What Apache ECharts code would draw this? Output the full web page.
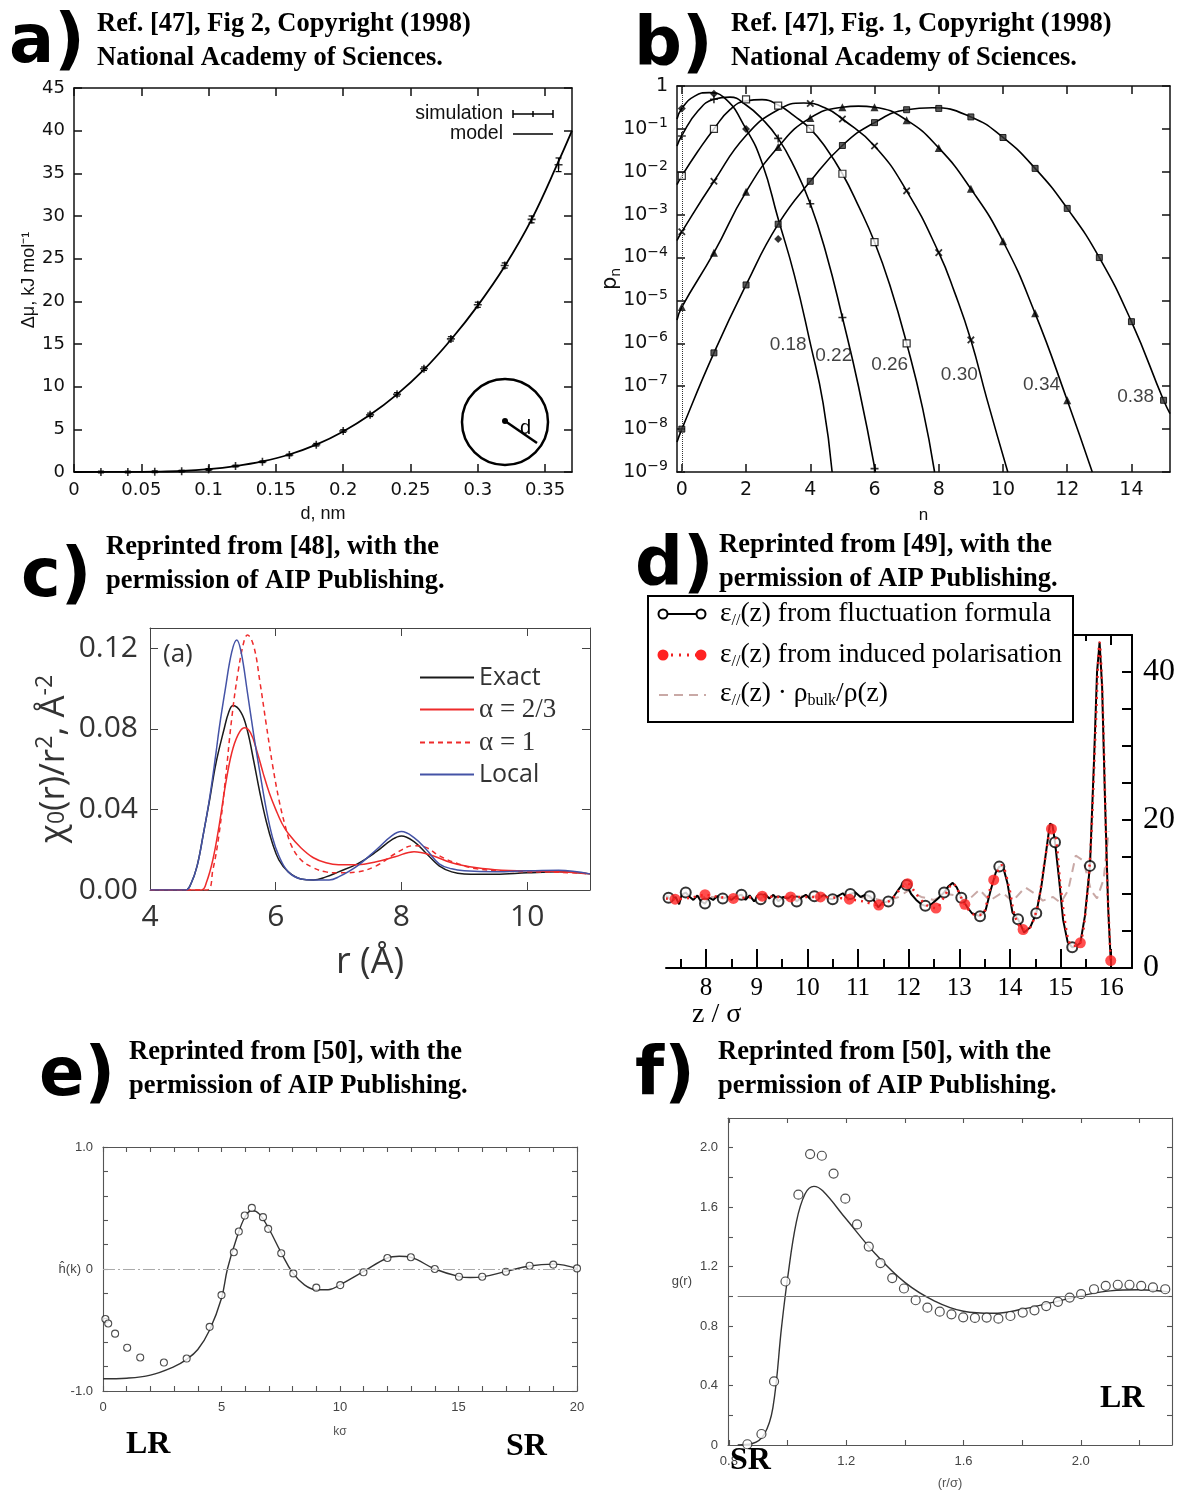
<!DOCTYPE html>
<html>
<head>
<meta charset="utf-8">
<script src="https://cdn.jsdelivr.net/npm/echarts@6/dist/echarts.min.js"></script>
<style>
  html, body { margin: 0; background: #fff; }
  #main { width: 1185px; height: 1496px; }
</style>
</head>
<body>
<div id="main"></div>
<script>
// ---------- panel a : insertion free energy ----------
const aSimD = [0.02, 0.04, 0.06, 0.08, 0.10, 0.12, 0.14, 0.16, 0.18, 0.20, 0.22, 0.24, 0.26, 0.28, 0.30, 0.32, 0.34, 0.36]
const aSimMu = [0, 0, 0.03, 0.1, 0.3, 0.7, 1.2, 2.0, 3.2, 4.8, 6.7, 9.1, 12.1, 15.6, 19.6, 24.2, 29.6, 36.0]
const aSimErr = [0.1, 0.1, 0.1, 0.1, 0.1, 0.1, 0.1, 0.1, 0.15, 0.15, 0.2, 0.2, 0.2, 0.25, 0.3, 0.3, 0.4, 0.8]
const aModelD = [0, 0.04, 0.06, 0.08, 0.10, 0.12, 0.14, 0.16, 0.18, 0.20, 0.22, 0.24, 0.26, 0.28, 0.30, 0.32, 0.34, 0.36, 0.37]
const aModelMu = [0, 0.01, 0.04, 0.12, 0.33, 0.7, 1.25, 2.05, 3.2, 4.75, 6.7, 9.1, 12.0, 15.5, 19.5, 24.1, 29.6, 36.4, 40.0]
const aTicksX = [0, 0.05, 0.1, 0.15, 0.2, 0.25, 0.3, 0.35]
const aTicksY = [0, 5, 10, 15, 20, 25, 30, 35, 40, 45]

// ---------- panel b : occupancy probabilities p_n ----------
const bPts18 = [[0, 0.3], [1, 0.66], [2, 0.1], [3, 2.7e-4]]
const bPts22 = [[0, 0.068], [1, 0.49], [3, 0.06], [4, 1.8e-3], [5, 4e-6], [6, 1.2e-9]]
const bPts26 = [[0, 8e-3], [1, 0.1], [2, 0.49], [3, 0.35], [4, 0.1], [5, 9e-3], [6, 2.3e-4], [7, 1e-6]]
const bPts30 = [[0, 4e-4], [1, 6e-3], [4, 0.39], [5, 0.17], [6, 0.04], [7, 3.6e-3], [8, 1.3e-4], [9, 1.2e-6]]
const bPts34 = [[0, 7e-6], [1, 1.3e-4], [2, 3.4e-3], [3, 0.038], [4, 0.18], [5, 0.32], [6, 0.32], [7, 0.16], [8, 0.036], [9, 4e-3], [10, 2.4e-4], [11, 5e-6], [12, 4.7e-8]]
const bPts38 = [[0, 1e-8], [1, 6e-7], [2, 2.3e-5], [3, 6e-4], [4, 6e-3], [5, 0.041], [6, 0.14], [7, 0.28], [8, 0.3], [9, 0.19], [10, 0.063], [11, 0.012], [12, 1.4e-3], [13, 1e-4], [14, 3.2e-6], [15, 4.7e-8]]
const bFit18 = [[-0.15, 0.17], [0, 0.3], [0.4, 0.58], [0.85, 0.7], [1.3, 0.55], [2, 0.1], [2.5, 0.016], [3, 8e-4], [3.5, 4e-5], [4, 1e-6], [4.4, 4e-8], [4.68, 1e-9]]
const bFit22 = [[-0.15, 0.04], [0, 0.07], [0.5, 0.26], [1, 0.49], [1.5, 0.55], [2, 0.36], [2.5, 0.17], [3, 0.06], [3.5, 0.013], [4, 1.8e-3], [4.5, 1.2e-4], [5, 4e-6], [5.5, 1e-7], [6.03, 1e-9]]
const bFit26 = [[-0.15, 5e-3], [0, 8e-3], [0.5, 0.03], [1, 0.1], [1.5, 0.28], [2, 0.45], [2.5, 0.48], [3, 0.36], [3.5, 0.2], [4, 0.1], [4.5, 0.035], [5, 9e-3], [5.5, 1.6e-3], [6, 2.3e-4], [6.5, 2e-5], [7, 1e-6], [7.5, 3e-8], [7.87, 1e-9]]
const bFit30 = [[-0.15, 2.5e-4], [0, 4e-4], [1, 6e-3], [2, 0.07], [3, 0.28], [3.8, 0.4], [4.5, 0.3], [5, 0.17], [6, 0.04], [7, 3.6e-3], [8, 1.3e-4], [8.5, 1.5e-5], [9, 1.2e-6], [9.5, 5e-8], [10.15, 1e-9]]
const bFit34 = [[-0.15, 3.5e-6], [0, 7e-6], [1, 1.3e-4], [2, 3.4e-3], [3, 0.038], [4, 0.18], [5, 0.32], [5.5, 0.34], [6, 0.32], [7, 0.16], [8, 0.036], [9, 4e-3], [10, 2.4e-4], [11, 5e-6], [12, 4.7e-8], [12.78, 1e-9]]
const bFit38 = [[-0.15, 5e-9], [0, 1e-8], [1, 6e-7], [2, 2.3e-5], [3, 6e-4], [4, 6e-3], [5, 0.041], [6, 0.14], [7, 0.28], [7.8, 0.31], [9, 0.19], [10, 0.063], [11, 0.012], [12, 1.4e-3], [13, 1e-4], [14, 3.2e-6], [15, 4.7e-8], [15.2, 2.3e-8]]
const bTagText = ['0.18', '0.22', '0.26', '0.30', '0.34', '0.38']
const bTagN = [3.31, 4.73, 6.47, 8.64, 11.2, 14.13]
const bTagP = [9.3e-7, 5.2e-7, 3.2e-7, 1.9e-7, 1.1e-7, 5.8e-8]
const bTicksX = [0, 2, 4, 6, 8, 10, 12, 14]

// ---------- panel c : chi0(r)/r^2 ----------
const cExact = [[4, 0], [4.57, 0], [4.65, 0.003], [4.75, 0.012], [4.85, 0.028], [4.95, 0.045], [5.05, 0.063], [5.18, 0.08], [5.25, 0.088], [5.32, 0.0915], [5.45, 0.088], [5.55, 0.079], [5.65, 0.064], [5.75, 0.048], [5.85, 0.034], [5.95, 0.023], [6.05, 0.015], [6.2, 0.009], [6.4, 0.0055], [6.6, 0.005], [6.8, 0.0065], [7.0, 0.009], [7.3, 0.013], [7.6, 0.019], [7.85, 0.025], [8.0, 0.0268], [8.2, 0.024], [8.4, 0.018], [8.6, 0.012], [8.8, 0.009], [9.0, 0.008], [9.5, 0.0078], [10.0, 0.0085], [10.5, 0.009], [11.0, 0.008]]
const cAlpha23 = [[4, 0], [4.82, 0], [4.9, 0.004], [5.0, 0.015], [5.1, 0.032], [5.2, 0.052], [5.3, 0.068], [5.4, 0.077], [5.5, 0.0805], [5.6, 0.078], [5.7, 0.069], [5.8, 0.058], [5.9, 0.048], [6.0, 0.040], [6.1, 0.033], [6.2, 0.028], [6.4, 0.021], [6.6, 0.016], [6.8, 0.0135], [7.0, 0.0125], [7.3, 0.0125], [7.6, 0.014], [7.9, 0.0165], [8.2, 0.019], [8.5, 0.017], [8.8, 0.0135], [9.2, 0.011], [9.6, 0.0098], [10.0, 0.0095], [10.5, 0.009], [11.0, 0.008]]
const cAlpha1 = [[4, 0], [4.9, 0], [5.0, 0.01], [5.1, 0.028], [5.2, 0.055], [5.3, 0.085], [5.4, 0.108], [5.5, 0.124], [5.55, 0.1265], [5.65, 0.121], [5.75, 0.103], [5.85, 0.082], [5.95, 0.062], [6.05, 0.045], [6.15, 0.032], [6.25, 0.022], [6.4, 0.015], [6.6, 0.011], [6.8, 0.009], [7.0, 0.0085], [7.3, 0.009], [7.6, 0.012], [7.9, 0.018], [8.2, 0.022], [8.4, 0.021], [8.6, 0.017], [8.9, 0.013], [9.2, 0.0105], [9.6, 0.0095], [10.0, 0.009], [10.5, 0.0088], [11.0, 0.008]]
const cLocal = [[4, 0], [4.57, 0], [4.65, 0.003], [4.75, 0.012], [4.85, 0.028], [4.95, 0.046], [5.05, 0.068], [5.1, 0.08], [5.2, 0.1], [5.3, 0.118], [5.38, 0.124], [5.45, 0.118], [5.55, 0.098], [5.65, 0.077], [5.75, 0.058], [5.85, 0.04], [5.95, 0.026], [6.05, 0.017], [6.2, 0.009], [6.4, 0.0055], [6.6, 0.005], [6.85, 0.005], [7.0, 0.0065], [7.3, 0.012], [7.6, 0.02], [7.85, 0.027], [8.0, 0.029], [8.2, 0.026], [8.4, 0.02], [8.6, 0.013], [8.8, 0.0105], [9.0, 0.0095], [9.5, 0.009], [10.0, 0.0095], [10.5, 0.0098], [11.0, 0.008]]
const cTicksX = [4, 6, 8, 10]
const cTicksY = [0, 0.04, 0.08, 0.12]

// ---------- panel d : epsilon_par(z) ----------
const dFluct = [[7.21, 9.7], [7.26, 9.5], [7.33, 9.1], [7.40, 9.6], [7.47, 8.6], [7.52, 9.9], [7.60, 10.2], [7.68, 9.6], [7.75, 9.2], [7.83, 9.8], [7.9, 9.0], [7.98, 8.7], [8.06, 9.5], [8.14, 9.2], [8.22, 9.7], [8.33, 9.4], [8.42, 9.6], [8.5, 9.2], [8.6, 9.7], [8.70, 9.9], [8.78, 9.2], [8.86, 9.8], [8.95, 9.0], [9.02, 9.6], [9.08, 9.3], [9.16, 10.0], [9.25, 9.4], [9.33, 9.9], [9.43, 9.0], [9.52, 9.6], [9.62, 9.4], [9.70, 9.8], [9.79, 9.0], [9.88, 9.5], [9.97, 9.9], [10.05, 9.4], [10.14, 9.7], [10.24, 9.5], [10.33, 9.9], [10.42, 9.4], [10.50, 9.3], [10.6, 9.7], [10.7, 10.1], [10.78, 9.5], [10.85, 10.0], [10.95, 10.2], [11.05, 9.6], [11.15, 9.9], [11.23, 9.7], [11.32, 9.1], [11.4, 8.2], [11.48, 8.8], [11.60, 9.0], [11.7, 9.6], [11.8, 10.6], [11.9, 11.5], [11.96, 11.2], [12.05, 10.0], [12.15, 9.2], [12.25, 8.6], [12.33, 8.4], [12.45, 8.6], [12.58, 9.4], [12.70, 10.2], [12.78, 11.0], [12.87, 11.5], [12.95, 10.9], [13.04, 9.5], [13.15, 8.3], [13.25, 7.4], [13.41, 7.0], [13.52, 7.8], [13.62, 10.5], [13.72, 12.9], [13.79, 13.7], [13.86, 13.8], [13.95, 11.5], [14.05, 7.5], [14.16, 6.6], [14.28, 4.8], [14.4, 5.5], [14.52, 7.4], [14.62, 11], [14.72, 16], [14.79, 19.5], [14.84, 19.3], [14.89, 17.0], [14.97, 12], [15.05, 6.5], [15.14, 3.5], [15.23, 2.8], [15.32, 3.0], [15.39, 3.4], [15.48, 7], [15.58, 13.8], [15.66, 28], [15.72, 40], [15.77, 44], [15.82, 38], [15.88, 22], [15.94, 8], [15.99, 1.0]]
const dFluctMarks = [[7.26, 9.5], [7.60, 10.2], [7.98, 8.7], [8.33, 9.4], [8.70, 9.9], [9.08, 9.3], [9.43, 9.0], [9.79, 9.0], [10.14, 9.7], [10.50, 9.3], [10.85, 10.0], [11.23, 9.7], [11.60, 9.0], [11.96, 11.2], [12.33, 8.4], [12.70, 10.2], [13.04, 9.5], [13.41, 7.0], [13.79, 13.7], [14.16, 6.6], [14.52, 7.4], [14.89, 17.0], [15.23, 2.8], [15.58, 13.8]]
const dInduced = [[7.21, 9.4], [7.39, 9.3], [7.7, 9.5], [7.98, 9.9], [8.25, 9.6], [8.54, 9.4], [8.8, 9.5], [9.11, 9.7], [9.4, 9.6], [9.67, 9.6], [10.0, 9.6], [10.26, 9.6], [10.55, 9.5], [10.83, 9.3], [11.1, 9.0], [11.41, 8.5], [11.65, 9.2], [11.85, 10.8], [11.98, 11.4], [12.15, 10.0], [12.35, 8.5], [12.54, 8.1], [12.7, 9.6], [12.87, 11.4], [13.11, 8.6], [13.3, 7.2], [13.45, 7.2], [13.6, 10.5], [13.68, 11.9], [13.84, 13.9], [13.98, 11], [14.1, 7], [14.26, 5.2], [14.4, 5.5], [14.55, 8.5], [14.7, 15], [14.82, 18.8], [14.9, 18], [15.0, 11], [15.15, 3.8], [15.25, 3.0], [15.39, 3.4], [15.5, 8], [15.6, 17], [15.69, 32], [15.77, 44], [15.83, 36], [15.92, 12], [15.99, 1.0]]
const dInducedMarks = [[7.39, 9.3], [7.98, 9.9], [8.54, 9.4], [9.11, 9.7], [9.67, 9.6], [10.26, 9.6], [10.83, 9.3], [11.41, 8.5], [11.98, 11.4], [12.54, 8.1], [13.11, 8.6], [13.68, 11.9], [14.26, 5.2], [14.82, 18.8], [15.39, 3.4], [15.99, 1.0]]
const dScaled = [[7.21, 9.8], [8, 9.6], [9, 9.6], [10, 9.7], [11, 9.6], [11.3, 9.4], [11.55, 9.0], [11.8, 9.6], [12.0, 10.5], [12.25, 9.6], [12.5, 9.2], [12.75, 10.0], [12.95, 9.8], [13.15, 9.0], [13.4, 10.6], [13.6, 9.1], [13.85, 10.2], [14.05, 9.0], [14.3, 10.9], [14.5, 10.0], [14.65, 9.1], [14.85, 9.6], [15.0, 8.8], [15.15, 10.5], [15.3, 15.2], [15.45, 14.5], [15.6, 10.5], [15.72, 9.4], [15.85, 12], [15.95, 18.5]]
const dTicksMajor = [8, 9, 10, 11, 12, 13, 14, 15, 16]
const dTicksMinor = [7.5, 8.5, 9.5, 10.5, 11.5, 12.5, 13.5, 14.5, 15.5]
const dTicksY = [5, 10, 15, 20, 25, 30, 35, 40]
const dLabelsY = [0, 20, 40]

// ---------- panel e : h(k) ----------
const eK = [0.1, 0.22, 0.51, 1.02, 1.57, 2.57, 3.53, 4.5, 5.0, 5.52, 5.73, 5.98, 6.28, 6.75, 6.97, 7.52, 8.03, 9.0, 10.01, 10.99, 12.0, 12.99, 14.0, 15.02, 16.0, 17.0, 18.0, 19.0, 20.0]
const eH = [-0.41, -0.447, -0.53, -0.645, -0.725, -0.767, -0.734, -0.474, -0.214, 0.137, 0.307, 0.438, 0.501, 0.425, 0.329, 0.129, -0.036, -0.153, -0.132, -0.027, 0.09, 0.096, 0.0, -0.063, -0.063, -0.022, 0.027, 0.036, 0.005]
const eCurveK = [0, 1, 2, 3, 3.5, 4, 4.5, 5, 5.25, 5.6, 6.0, 6.3, 6.6, 7.0, 7.5, 8.0, 8.5, 9.0, 9.5, 10, 11, 12, 12.5, 13, 14, 15, 15.5, 16, 17, 18, 19, 20]
const eCurveH = [-0.9, -0.895, -0.87, -0.8, -0.745, -0.66, -0.5, -0.24, 0, 0.23, 0.43, 0.48, 0.45, 0.33, 0.14, -0.03, -0.13, -0.17, -0.17, -0.13, -0.02, 0.09, 0.105, 0.095, 0.0, -0.06, -0.07, -0.065, -0.02, 0.025, 0.04, 0.005]
const eTicksX = [0, 1, 2, 3, 4, 5, 6, 7, 8, 9, 10, 11, 12, 13, 14, 15, 16, 17, 18, 19, 20]
const eLabelsX = [0, 5, 10, 15, 20]
const eTicksY = [-1, -0.8, -0.6, -0.4, -0.2, 0, 0.2, 0.4, 0.6, 0.8, 1]
const eLabelsY = [-1, 0, 1]

// ---------- panel f : g(r) ----------
const fR = [0.863, 0.911, 0.954, 0.993, 1.037, 1.077, 1.117, 1.157, 1.197, 1.237, 1.277, 1.317, 1.357, 1.397, 1.437, 1.477, 1.519, 1.559, 1.599, 1.639, 1.679, 1.719, 1.76, 1.802, 1.842, 1.882, 1.922, 1.962, 2.001, 2.045, 2.085, 2.126, 2.166, 2.206, 2.246, 2.288]
const fG = [0.005, 0.074, 0.428, 1.10, 1.684, 1.957, 1.946, 1.826, 1.657, 1.484, 1.335, 1.224, 1.123, 1.053, 0.974, 0.924, 0.897, 0.879, 0.859, 0.855, 0.857, 0.85, 0.868, 0.891, 0.906, 0.935, 0.963, 0.992, 1.015, 1.048, 1.071, 1.078, 1.078, 1.071, 1.06, 1.048]
const fCurveR = [0.83, 0.88, 0.92, 0.95, 0.98, 1.0, 1.03, 1.06, 1.09, 1.12, 1.2, 1.3, 1.4, 1.5, 1.6, 1.7, 1.8, 1.9, 2.0, 2.1, 2.2, 2.3]
const fCurveG = [0, 0.01, 0.07, 0.25, 0.8, 1.12, 1.5, 1.69, 1.74, 1.71, 1.52, 1.285, 1.094, 0.97, 0.9, 0.886, 0.913, 0.958, 1.003, 1.037, 1.044, 1.03]
const fTicksX = [0.8, 1.0, 1.2, 1.4, 1.6, 1.8, 2.0, 2.2]
const fLabelsX = [0.8, 1.2, 1.6, 2.0]
const fTicksY = [0.2, 0.4, 0.6, 0.8, 1.0, 1.2, 1.4, 1.6, 1.8, 2.0]
const fLabelsY = [0, 0.4, 0.8, 1.2, 1.6, 2.0]

// ---------- helpers ----------
const SANS = '"Liberation Sans", Arial, sans-serif'
const DEJA = '"DejaVu Sans", sans-serif'
const SERIF = '"Liberation Serif", "Times New Roman", serif'
const OPEN = '"Open Sans", sans-serif'
const PLUS = 'path://M4,0h2v4h4v2h-4v4h-2v-4h-4v-2h4z'

const grids = [], xAxes = [], yAxes = [], series = [], graphics = []

function merge(a, b) {
  for (const k in b) {
    if (b[k] && typeof b[k] === 'object' && !Array.isArray(b[k]) && a[k] && typeof a[k] === 'object') merge(a[k], b[k])
    else a[k] = b[k]
  }
  return a
}

function addGrid(rect) {
  grids.push(Object.assign({ show: false, containLabel: false, outerBoundsMode: 'none' }, rect))
  return grids.length - 1
}

// one side of a panel frame
function side(list, g, pos, min, max, st, extra) {
  const o = {
    type: 'value', gridIndex: g, position: pos, min: min, max: max,
    splitLine: { show: false }, silent: true, nameMoveOverlap: false,
    axisLine: { show: true, onZero: false, lineStyle: { color: st.color, width: st.lw } },
    axisTick: { show: true, inside: true, length: st.tick, lineStyle: { color: st.color, width: st.lw } },
    axisLabel: { show: false, fontFamily: st.font, fontSize: st.size, color: st.labelColor || st.color, margin: st.margin || 8 }
  }
  list.push(merge(o, extra || {}))
  return list.length - 1
}

function txt(x, y, text, font, extra) {
  graphics.push({
    type: 'text', x: x, y: y, z: 50, silent: true,
    style: Object.assign({ text: text, font: font, fill: '#000', align: 'left', verticalAlign: 'middle' }, extra || {})
  })
}
function seg(x1, y1, x2, y2, style, z) {
  graphics.push({ type: 'line', z: z || 50, silent: true, shape: { x1, y1, x2, y2 }, style: Object.assign({ stroke: '#000', lineWidth: 1.5 }, style) })
}
function dot(cx, cy, r, style, z) {
  graphics.push({ type: 'circle', z: z || 50, silent: true, shape: { cx, cy, r }, style: style })
}

// ---------- panel a ----------
const gA = addGrid({ left: 74, top: 88, width: 498, height: 384 })
const stA = { color: '#111', lw: 1.5, tick: 8, font: DEJA, size: 18, margin: 9 }
const axAx = side(xAxes, gA, 'bottom', 0, 0.37, stA, {
  axisTick: { customValues: aTicksX }, axisLabel: { show: true, customValues: aTicksX },
  name: 'd, nm', nameLocation: 'middle', nameGap: 33, nameTextStyle: { fontFamily: SANS, fontSize: 18, color: '#111' }
})
side(xAxes, gA, 'top', 0, 0.37, stA, { axisTick: { customValues: aTicksX } })
const axAy = side(yAxes, gA, 'left', 0, 45, stA, {
  axisTick: { customValues: aTicksY }, axisLabel: { show: true, customValues: aTicksY },
  name: 'Δμ, kJ mol⁻¹', nameLocation: 'middle', nameGap: 36, nameTextStyle: { fontFamily: SANS, fontSize: 18, color: '#111' }
})
side(yAxes, gA, 'right', 0, 45, stA, { axisTick: { customValues: aTicksY } })

series.push({
  type: 'line', xAxisIndex: axAx, yAxisIndex: axAy, data: aModelD.map((d, i) => [d, aModelMu[i]]),
  smooth: 0.4, symbol: 'none', lineStyle: { color: '#000', width: 1.8 }, z: 3
})
series.push({
  type: 'custom', xAxisIndex: axAx, yAxisIndex: axAy, z: 4,
  data: aSimD.map((d, i) => [d, aSimMu[i] - aSimErr[i], aSimMu[i] + aSimErr[i]]),
  renderItem: function (p, api) {
    const lo = api.coord([api.value(0), api.value(1)])
    const hi = api.coord([api.value(0), api.value(2)])
    const st = { stroke: '#000', lineWidth: 1.2 }
    return {
      type: 'group', children: [
        { type: 'line', shape: { x1: lo[0], y1: lo[1], x2: hi[0], y2: hi[1] }, style: st },
        { type: 'line', shape: { x1: lo[0] - 3, y1: lo[1], x2: lo[0] + 3, y2: lo[1] }, style: st },
        { type: 'line', shape: { x1: hi[0] - 3, y1: hi[1], x2: hi[0] + 3, y2: hi[1] }, style: st }
      ]
    }
  }
})
series.push({
  type: 'scatter', xAxisIndex: axAx, yAxisIndex: axAy, data: aSimD.map((d, i) => [d, aSimMu[i]]),
  symbol: PLUS, symbolSize: 8, itemStyle: { color: '#000' }, z: 5
})
// legend + sphere sketch of panel a
txt(503, 114, 'simulation', '19.5px ' + SANS, { align: 'right', fill: '#111' })
txt(503, 134, 'model', '19.5px ' + SANS, { align: 'right', fill: '#111' })
seg(513, 114, 553, 114, {})
seg(513, 110, 513, 118, {})
seg(553, 110, 553, 118, {})
seg(533, 111, 533, 117, {})
seg(513, 134, 553, 134, {})
dot(505, 422, 43, { fill: 'none', stroke: '#000', lineWidth: 2.5 })
seg(505, 421, 537, 443, { lineWidth: 2.5 })
dot(505, 421, 3, { fill: '#000' })
txt(520, 428, 'd', '20px ' + SANS)

// ---------- panel b ----------
const gB = addGrid({ left: 677, top: 86, width: 493, height: 386 })
const stB = { color: '#111', lw: 1.5, tick: 8, font: DEJA, size: 19, margin: 9 }
const supFmt = v => {
  const e = Math.round(Math.log10(v))
  return e === 0 ? '1' : '10{s|−' + (-e) + '}'
}
const axBx = side(xAxes, gB, 'bottom', -0.15, 15.2, stB, {
  axisTick: { customValues: bTicksX }, axisLabel: { show: true, customValues: bTicksX },
  name: 'n', nameLocation: 'middle', nameGap: 35, nameTextStyle: { fontFamily: SANS, fontSize: 17, color: '#111' }
})
side(xAxes, gB, 'top', -0.15, 15.2, stB, { axisTick: { customValues: bTicksX } })
const axBy = side(yAxes, gB, 'left', 1e-9, 1, stB, {
  type: 'log', logBase: 10,
  axisLabel: { show: true, formatter: supFmt, rich: { s: { fontFamily: DEJA, fontSize: 14, color: '#111', padding: [0, 0, 11, 0] } } },
  name: '{p|p}{n|n}', nameLocation: 'middle', nameGap: 54,
  nameTextStyle: { rich: { p: { fontFamily: DEJA, fontSize: 21, color: '#111' }, n: { fontFamily: DEJA, fontSize: 14, color: '#111', padding: [10, 0, 0, 0] } } }
})
side(yAxes, gB, 'right', 1e-9, 1, stB, { type: 'log', logBase: 10 })

const bCurves = [bFit18, bFit22, bFit26, bFit30, bFit34, bFit38]
const bPts = [bPts18, bPts22, bPts26, bPts30, bPts34, bPts38]
const bSym = [
  { symbol: 'diamond', symbolSize: 8, itemStyle: { color: '#000' } },
  { symbol: PLUS, symbolSize: 8, itemStyle: { color: '#000' } },
  { symbol: 'rect', symbolSize: 7, itemStyle: { color: '#fff', borderColor: '#000', borderWidth: 1.2 } },
  { symbol: PLUS, symbolSize: 9, symbolRotate: 45, itemStyle: { color: '#000' } },
  { symbol: 'triangle', symbolSize: 8, itemStyle: { color: '#000' } },
  { symbol: 'rect', symbolSize: 6, itemStyle: { color: '#333', borderColor: '#000', borderWidth: 1 } }
]
bCurves.forEach((c, i) => {
  series.push({
    type: 'line', xAxisIndex: axBx, yAxisIndex: axBy, data: c, smooth: 0.5, symbol: 'none',
    lineStyle: { color: '#000', width: 1.6 }, z: 3,
    markLine: i === 0 ? {
      silent: true, symbol: ['none', 'none'], label: { show: false },
      lineStyle: { color: '#333', type: 'dotted', width: 1 }, data: [{ xAxis: 0 }]
    } : undefined
  })
  series.push(Object.assign({ type: 'scatter', xAxisIndex: axBx, yAxisIndex: axBy, data: bPts[i], z: 4 }, bSym[i]))
})
series.push({
  type: 'scatter', xAxisIndex: axBx, yAxisIndex: axBy, symbolSize: 0, z: 6,
  data: bTagText.map((t, i) => ({ name: t, value: [bTagN[i], bTagP[i]] })),
  label: { show: true, position: 'inside', formatter: '{b}', fontFamily: SANS, fontSize: 19, color: '#111' }
})

// ---------- panel c ----------
const gC = addGrid({ left: 150, top: 628, width: 440, height: 262 })
const stC = { color: '#444', lw: 1, tick: 8, font: OPEN, size: 30, labelColor: '#333', margin: 12 }
const axCx = side(xAxes, gC, 'bottom', 4, 11, stC, {
  axisTick: { customValues: cTicksX }, axisLabel: { show: true, customValues: cTicksX },
  name: 'r (Å)', nameLocation: 'middle', nameGap: 55, nameTextStyle: { fontFamily: OPEN, fontSize: 36, color: '#333' }
})
side(xAxes, gC, 'top', 4, 11, stC, { axisTick: { customValues: cTicksX } })
const axCy = side(yAxes, gC, 'left', 0, 0.13, stC, {
  axisTick: { customValues: cTicksY }, axisLabel: { show: true, customValues: cTicksY, formatter: v => v.toFixed(2) },
  name: '{t|χ}{z|0}{t|(r)/r}{u|2}{t|, Å}{u|-2}', nameLocation: 'middle', nameGap: 75,
  nameTextStyle: {
    rich: {
      t: { fontFamily: OPEN, fontSize: 35, color: '#333' },
      z: { fontFamily: OPEN, fontSize: 23, color: '#333', padding: [6, 0, 0, 0] },
      u: { fontFamily: OPEN, fontSize: 23, color: '#333', padding: [0, 0, 18, 0] }
    }
  }
})
side(yAxes, gC, 'right', 0, 0.13, stC, { axisTick: { customValues: cTicksY } })
const cStyle = [
  ['Exact', cExact, '#1a1a1a', 'solid'],
  ['α = 2/3', cAlpha23, '#ee2b2b', 'solid'],
  ['α = 1', cAlpha1, '#ee2b2b', [5, 4]],
  ['Local', cLocal, '#4453a6', 'solid']
]
cStyle.forEach(s => {
  series.push({
    name: s[0], type: 'line', xAxisIndex: axCx, yAxisIndex: axCy, data: s[1], smooth: 0.4, symbol: 'none',
    lineStyle: { color: s[2], width: 1.5, type: s[3] }, itemStyle: { color: s[2] }, z: 3
  })
})
txt(163, 655, '(a)', '26px ' + OPEN, { fill: '#333' })

// ---------- panel d ----------
const gD = addGrid({ left: 666, top: 635, width: 466, height: 333 })
const stD = { color: '#000', lw: 2, tick: 19, font: SERIF, size: 25, margin: 8 }
const axDx = side(xAxes, gD, 'bottom', 7.21, 16.41, stD, {
  axisTick: { customValues: dTicksMajor }, axisLabel: { show: true, customValues: dTicksMajor }
})
side(xAxes, gD, 'bottom', 7.21, 16.41, stD, { axisLine: { show: false }, axisTick: { length: 9, customValues: dTicksMinor } })
side(xAxes, gD, 'top', 7.21, 16.41, stD, { axisTick: { length: 10, customValues: dTicksMajor } })
side(xAxes, gD, 'top', 7.21, 16.41, stD, { axisLine: { show: false }, axisTick: { length: 6, customValues: dTicksMinor } })
const axDy = side(yAxes, gD, 'right', 0, 45, stD, {
  axisTick: { length: 10, customValues: dTicksY }, axisLabel: { show: true, customValues: dLabelsY, fontSize: 32, margin: 11 }
})
series.push({
  type: 'line', xAxisIndex: axDx, yAxisIndex: axDy, data: dScaled, symbol: 'none', z: 2,
  lineStyle: { color: '#c9a9a6', width: 2, type: [9, 6] }
})
series.push({
  type: 'line', xAxisIndex: axDx, yAxisIndex: axDy, data: dFluct, symbol: 'none', z: 3,
  lineStyle: { color: '#000', width: 2 }
})
series.push({
  type: 'scatter', xAxisIndex: axDx, yAxisIndex: axDy, data: dFluctMarks, symbol: 'circle', symbolSize: 10, z: 4,
  itemStyle: { color: '#fff', borderColor: '#000', borderWidth: 2 }
})
series.push({
  type: 'line', xAxisIndex: axDx, yAxisIndex: axDy, data: dInduced, symbol: 'none', z: 5, smooth: 0.3,
  lineStyle: { color: '#f02020', width: 2.5, type: [2, 5] }
})
series.push({
  type: 'scatter', xAxisIndex: axDx, yAxisIndex: axDy, data: dInducedMarks, symbol: 'circle', symbolSize: 11, z: 6,
  itemStyle: { color: '#f22' }
})
txt(692, 1015, 'z / σ', '28px ' + SERIF)
// legend box of panel d
graphics.push({ type: 'rect', z: 80, silent: true, shape: { x: 648, y: 596, width: 425, height: 126 }, style: { fill: '#fff', stroke: '#000', lineWidth: 2 } })
const dRich = {
  e: { fontFamily: SERIF, fontSize: 27.5, color: '#000' },
  s: { fontFamily: SERIF, fontSize: 16, color: '#000', padding: [14, 0, 0, 0] }
}
const dLeg = ['{e|ε}{s|//}{e|(z) from fluctuation formula}', '{e|ε}{s|//}{e|(z) from induced polarisation}', '{e|ε}{s|//}{e|(z) · ρ}{s|bulk}{e|/ρ(z)}']
const dLegY = [614, 655, 694]
dLeg.forEach((t, i) => {
  graphics.push({ type: 'text', z: 90, silent: true, x: 720, y: dLegY[i], style: { text: t, rich: dRich, align: 'left', verticalAlign: 'middle' } })
})
seg(663, 614, 701, 614, { lineWidth: 2 }, 90)
dot(663, 614, 4.5, { fill: '#fff', stroke: '#000', lineWidth: 2 }, 91)
dot(701, 614, 4.5, { fill: '#fff', stroke: '#000', lineWidth: 2 }, 91)
seg(663, 655, 701, 655, { stroke: '#f02020', lineWidth: 3, lineDash: [2, 6] }, 90)
dot(663, 655, 5.5, { fill: '#f22' }, 91)
dot(701, 655, 5.5, { fill: '#f22' }, 91)
seg(659, 695, 706, 695, { stroke: '#c9a9a6', lineWidth: 2, lineDash: [9, 6] }, 90)

// ---------- panel e ----------
const gE = addGrid({ left: 103, top: 1147, width: 474, height: 244 })
const stE = { color: '#555', lw: 1.1, tick: 5, font: SANS, size: 13, labelColor: '#444', margin: 10 }
const axEx = side(xAxes, gE, 'bottom', 0, 20, stE, {
  axisTick: { customValues: eTicksX }, axisLabel: { show: true, customValues: eLabelsX },
  name: 'kσ', nameLocation: 'middle', nameGap: 35, nameTextStyle: { fontFamily: SANS, fontSize: 12, color: '#555' }
})
side(xAxes, gE, 'top', 0, 20, stE, { axisTick: { customValues: eTicksX } })
const axEy = side(yAxes, gE, 'left', -1, 1, stE, {
  axisTick: { customValues: eTicksY },
  axisLabel: { show: true, customValues: eLabelsY, formatter: v => (v === 0 ? '0' : v.toFixed(1)) },
  name: 'ĥ(k)', nameLocation: 'middle', nameRotate: 0, nameGap: 22, nameTextStyle: { fontFamily: SANS, fontSize: 13, color: '#444' }
})
side(yAxes, gE, 'right', -1, 1, stE, { axisTick: { customValues: eTicksY } })
series.push({
  type: 'line', xAxisIndex: axEx, yAxisIndex: axEy, data: eCurveK.map((k, i) => [k, eCurveH[i]]), smooth: 0.4, symbol: 'none', z: 3,
  lineStyle: { color: '#333', width: 1.4 },
  markLine: {
    silent: true, symbol: ['none', 'none'], label: { show: false },
    lineStyle: { color: '#aaa', width: 1.2, type: [12, 3, 2, 3] }, data: [{ yAxis: 0 }]
  }
})
series.push({
  type: 'scatter', xAxisIndex: axEx, yAxisIndex: axEy, data: eK.map((k, i) => [k, eH[i]]), symbol: 'circle', symbolSize: 7, z: 4,
  itemStyle: { color: '#fff', borderColor: '#222', borderWidth: 1.1 }
})

// ---------- panel f ----------
const gF = addGrid({ left: 728, top: 1118, width: 444, height: 327 })
const stF = { color: '#555', lw: 1.1, tick: 5, font: SANS, size: 13, labelColor: '#444', margin: 10 }
const axFx = side(xAxes, gF, 'bottom', 0.797, 2.311, stF, {
  axisTick: { customValues: fTicksX }, axisLabel: { show: true, customValues: fLabelsX, formatter: v => v.toFixed(1) },
  name: '(r/σ)', nameLocation: 'middle', nameGap: 32, nameTextStyle: { fontFamily: SANS, fontSize: 13, color: '#555' }
})
side(xAxes, gF, 'top', 0.797, 2.311, stF, { axisTick: { customValues: fTicksX } })
const axFy = side(yAxes, gF, 'left', 0, 2.2, stF, {
  axisTick: { customValues: fTicksY },
  axisLabel: { show: true, customValues: fLabelsY, formatter: v => (v === 0 ? '0' : v.toFixed(1)) },
  name: 'g(r)', nameLocation: 'middle', nameRotate: 0, nameGap: 36, nameTextStyle: { fontFamily: SANS, fontSize: 13, color: '#444' }
})
side(yAxes, gF, 'right', 0, 2.2, stF, { axisTick: { customValues: fTicksY } })
series.push({
  type: 'line', xAxisIndex: axFx, yAxisIndex: axFy, data: fCurveR.map((r, i) => [r, fCurveG[i]]), smooth: 0.4, symbol: 'none', z: 3,
  lineStyle: { color: '#333', width: 1.4 },
  markLine: {
    silent: true, symbol: ['none', 'none'], label: { show: false },
    lineStyle: { color: '#777', width: 1, type: 'solid' }, data: [[{ coord: [0.83, 1] }, { coord: [2.3, 1] }]]
  }
})
series.push({
  type: 'scatter', xAxisIndex: axFx, yAxisIndex: axFy, data: fR.map((r, i) => [r, fG[i]]), symbol: 'circle', symbolSize: 9, z: 4,
  itemStyle: { color: '#fff', borderColor: '#222', borderWidth: 1.2 }
})

// ---------- panel letters, credits, LR / SR ----------
const LETTER = 'bold 67px "DejaVu Sans", sans-serif'
const CREDIT = 'bold 26.5px ' + SERIF
const panels = [
  ['a)', 9, 45, 97, 24, 'Ref. [47], Fig 2, Copyright (1998)', 'National Academy of Sciences.'],
  ['b)', 634, 48, 731, 24, 'Ref. [47], Fig. 1, Copyright (1998)', 'National Academy of Sciences.'],
  ['c)', 21, 579, 106, 547, 'Reprinted from [48], with the', 'permission of AIP Publishing.'],
  ['d)', 635, 568, 719, 545, 'Reprinted from [49], with the', 'permission of AIP Publishing.'],
  ['e)', 39, 1078, 129, 1052, 'Reprinted from [50], with the', 'permission of AIP Publishing.'],
  ['f)', 635, 1078, 718, 1052, 'Reprinted from [50], with the', 'permission of AIP Publishing.']
]
panels.forEach(p => {
  txt(p[1], p[2], p[0], LETTER)
  txt(p[3], p[4], p[5], CREDIT)
  txt(p[3], p[4] + 34, p[6], CREDIT)
})
const TAG = 'bold 32px ' + SERIF
txt(126, 1445, 'LR', TAG)
txt(506, 1447, 'SR', TAG)
txt(1100, 1399, 'LR', TAG)
txt(730, 1461, 'SR', TAG)

const chart = echarts.init(document.getElementById('main'))
chart.setOption({
  animation: false,
  backgroundColor: '#fff',
  grid: grids,
  xAxis: xAxes,
  yAxis: yAxes,
  legend: [{
    data: ['Exact', 'α = 2/3', 'α = 1', 'Local'], orient: 'vertical', left: 414, top: 660,
    itemWidth: 54, itemHeight: 14, itemGap: 6, selectedMode: false,
    itemStyle: { opacity: 0 },
    formatter: name => (name.charAt(0) === 'α' ? '{s|' + name + '}' : name),
    textStyle: { fontFamily: OPEN, fontSize: 25, color: '#333', rich: { s: { fontFamily: SERIF, fontSize: 27, color: '#333' } } }
  }],
  series: series,
  graphic: graphics
})
</script>
</body>
</html>
